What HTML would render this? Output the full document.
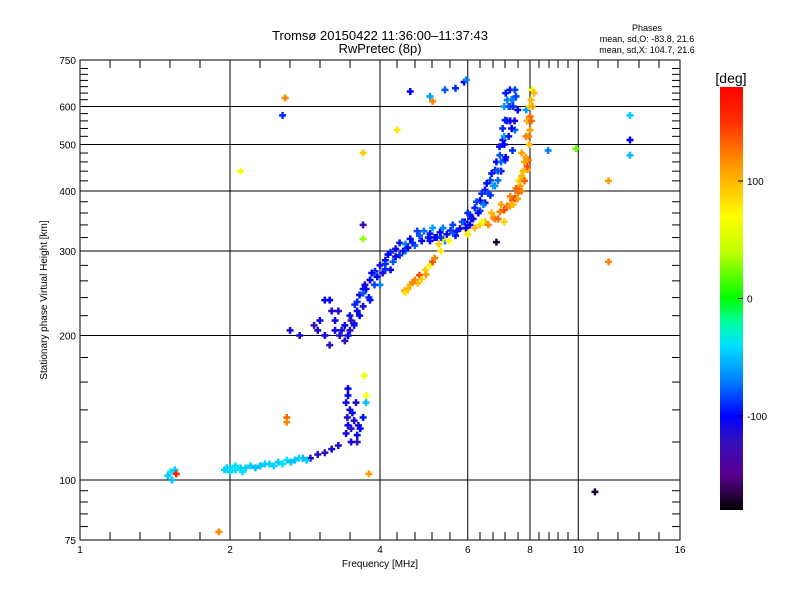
<!DOCTYPE html>
<html><head><meta charset="utf-8"><style>
body{margin:0;background:#fff;}
svg{display:block;font-family:"Liberation Sans",sans-serif;}
</style></head><body>
<svg id="chart" width="800" height="600" viewBox="0 0 800 600" xmlns="http://www.w3.org/2000/svg">
<rect width="800" height="600" fill="#fff"/>
<text x="380" y="40" font-size="13" text-anchor="middle">Tromsø 20150422 11:36:00–11:37:43</text>
<text x="380" y="53" font-size="13" text-anchor="middle">RwPretec (8p)</text>
<text x="647" y="31" font-size="9" text-anchor="middle">Phases</text>
<text x="647" y="42" font-size="9" text-anchor="middle">mean, sd,O: -83.8, 21.6</text>
<text x="647" y="53" font-size="9" text-anchor="middle">mean, sd,X: 104.7, 21.6</text>
<text x="380" y="567" font-size="10" text-anchor="middle">Frequency [MHz]</text>
<text x="47" y="300" font-size="10" text-anchor="middle" transform="rotate(-90 47 300)">Stationary phase Virtual Height [km]</text>
<text x="731" y="83" font-size="14" text-anchor="middle">[deg]</text>
<defs><linearGradient id="cg" x1="0" y1="1" x2="0" y2="0">
<stop offset="0" stop-color="#000000"/><stop offset="0.083" stop-color="#5a0090"/><stop offset="0.167" stop-color="#3010c0"/><stop offset="0.222" stop-color="#0000ff"/><stop offset="0.306" stop-color="#0080ff"/><stop offset="0.389" stop-color="#00e0ff"/><stop offset="0.444" stop-color="#00ffa0"/><stop offset="0.5" stop-color="#00ff00"/><stop offset="0.611" stop-color="#c0ff00"/><stop offset="0.694" stop-color="#ffff00"/><stop offset="0.806" stop-color="#ffa000"/><stop offset="0.917" stop-color="#ff3000"/><stop offset="1" stop-color="#ff0000"/>
</linearGradient></defs>
<rect x="720" y="87" width="23" height="423" fill="url(#cg)"/>
<g id="cbar"></g>
<g id="grid"></g>
<g id="marks"></g>
<rect x="80" y="60" width="600" height="480" fill="none" stroke="#000" stroke-width="1"/>
</svg>
<script>
const freq=[1.5,1.52,1.55,1.53,1.56,1.95,2.0,2.05,2.1,2.15,2.2,2.3,2.4,2.5,2.6,2.7,2.8,2.9,3.0,3.1,3.2,3.3,
3.42,3.45,3.44,3.48,3.42,3.45,3.5,3.55,3.6,3.62,3.65,3.7,3.6,3.45,3.5,3.52,3.58,
2.64,2.76,3.03,3.17,3.32,3.4,3.48,3.56,3.64,3.73,3.82,3.91,4.0,4.1,4.2,4.3,4.38,4.6,4.8,5.04,5.28,5.54,5.79,5.92,6.06,6.2,6.35,6.5,6.66,6.81,6.96,7.06,7.13,7.2,7.29,7.46,7.56,7.46,7.38,
3.48,3.64,3.82,4.0,4.2,4.38,4.7,5.04,5.4,5.67,6.06,6.35,6.66,6.9,7.13,3.17,3.25,3.4,3.1,3.3,3.55,3.7,3.9,4.1,4.5,5.2,5.6,6.1,6.5,6.8,7.0,7.1,7.3,7.4,7.2,7.35,
4.48,4.6,4.7,4.8,4.93,5.04,4.5,4.76,5.25,5.35,
5.96,6.35,6.75,6.96,7.2,7.38,7.56,7.64,7.74,7.9,7.94,7.97,8.0,8.0,8.04,8.08,7.86,7.29,7.46,7.1,6.8,6.5,7.6,7.7,7.8,7.85,7.9,
4.6,5.04,5.4,5.67,5.9,5.96,5.1,
2.58,2.55,2.1,3.7,3.7,3.7,4.33,6.85,8.7,9.9,11.5,11.5,12.7,12.7,12.7,10.8,2.6,2.6,3.72,3.75,3.75,3.8,1.9];
const height=[102,104,105,100,103,105,106,105,106,106,107,107,108,109,110,110,111,111,113,114,116,118,
125,130,135,140,145,150,128,133,124,130,128,135,120,155,120,138,145,
205,200,215,237,200,210,220,232,243,255,261,272,280,287,298,303,312,318,323,326,328,331,334,345,357,369,382,402,421,442,475,511,562,619,650,650,590,536,486,
205,220,237,255,274,294,308,315,315,323,340,364,392,421,464,191,205,195,237,225,212,250,268,282,300,320,328,350,378,410,440,520,600,620,560,540,
248,255,261,267,274,280,246,257,310,318,
331,340,352,362,372,382,396,410,425,443,464,500,536,572,619,650,590,372,386,345,350,345,400,430,460,520,560,
645,630,650,655,675,682,615,
625,575,440,480,340,318,536,313,486,490,285,420,575,511,475,94.5,135,132,165,150,145,103,78];
const phase=[-45,-40,-45,-50,160,-45,-45,-40,-45,-45,-45,-50,-45,-45,-40,-50,-55,-110,-115,-120,-110,-115,
-110,-105,-115,-110,-105,-100,-115,-110,-105,-110,-100,-95,-120,-100,-110,-105,-115,
-110,-110,-105,-100,-115,-100,-95,-90,-105,-110,-100,-95,-105,-100,-90,-105,-95,-100,-80,-95,-100,-90,-105,-100,-95,-90,-100,-95,-85,-90,-80,-100,-90,-70,-95,-85,-100,-75,-90,
-115,-100,-95,-70,-105,-90,-80,-100,-70,-95,-100,-85,-90,-75,-100,-120,-105,-120,-100,-110,-125,-95,-70,-90,-65,-100,-80,-95,-105,-70,-95,-60,-85,-75,-95,-100,
110,100,120,140,90,60,80,100,90,60,
70,90,110,120,130,130,120,110,100,110,120,100,110,130,100,60,-60,110,150,90,120,100,130,100,110,120,140,
-100,-60,-80,-90,-100,-70,120,
120,-90,70,90,-130,30,80,-170,-70,20,120,110,-45,-100,-50,-170,130,120,60,70,-50,110,120];
const freqB=[3.35,3.45,3.5,3.55,3.6,3.6,3.7,3.7,3.75,3.8,3.85,3.9,3.95,4.05,4.1,4.15,4.25,4.3,4.45,4.5,4.55,4.65,4.75,4.85,4.9,5.0,5.1,5.15,5.3,5.35,5.45,5.6,5.7,5.85,5.95,6.0,6.15,6.25,6.3,6.4,6.45,6.55,6.6,6.7,6.75,6.85,6.9,6.95,7.0,7.05,7.1,7.1,7.15,7.25,7.3,7.35,7.4,7.45,7.5,7.25,7.15,3.0,2.95,3.1,3.2,3.25,
6.0,6.2,6.4,6.6,6.7,6.9,7.0,7.1,7.3,7.4,7.5,7.55,7.6,7.7,7.75,7.8,7.85,7.9,7.95,7.92,7.98,8.05,8.1,8.15,7.7,4.55,4.65,4.85,4.95,5.1,5.15,5.3,5.5,
2.0,2.05,2.25,2.35,2.45,2.55,2.65,2.75,2.85,1.97,2.12];
const heightB=[205,200,215,210,225,235,230,245,250,240,270,255,265,270,275,295,285,292,300,310,305,312,330,315,330,320,335,320,320,335,325,340,330,345,335,360,350,380,360,395,375,415,395,435,410,460,440,495,460,540,500,600,640,600,560,620,600,560,630,520,470,205,210,200,225,215,
325,335,345,340,360,350,375,365,390,375,405,385,420,400,440,420,470,450,520,560,600,560,600,640,480,250,258,262,268,285,290,300,315,
104,107,106,108,107,108,109,111,110,106,104];
const phaseB=[-110,-100,-120,-95,-105,-90,-110,-80,-100,-95,-105,-85,-100,-110,-90,-100,-80,-105,-95,-70,-100,-90,-85,-100,-75,-95,-60,-100,-90,-70,-100,-85,-95,-80,-100,-90,-105,-85,-100,-90,-70,-100,-85,-95,-60,-100,-80,-95,-75,-90,-100,-60,-95,-80,-100,-70,-90,-110,-85,-95,-100,-110,-120,-105,-115,-110,
80,100,60,120,100,130,110,140,120,100,130,110,90,120,100,130,110,140,120,100,90,130,110,100,110,100,120,90,110,140,120,80,70,
-45,-40,-50,-45,-45,-40,-50,-45,-45,-45,-40];
const xTickVals=[1,2,4,6,8,10,16];
const yTickVals=[75,100,200,300,400,500,600,750];
const cbarTickVals=[100,0,-100];

const NS='http://www.w3.org/2000/svg';
const X0=80,X1=680,Y0=540,Y1=60;
function xs(f){return X0+150*Math.log2(f);}
function ys(h){return Y0-480*Math.log10(h/75);}
function cy(p){return 510-(p+180)/360*423;}
function el(tag,attrs,parent){const e=document.createElementNS(NS,tag);for(const k in attrs)e.setAttribute(k,attrs[k]);parent.appendChild(e);return e;}
const stops=[[-180,[0,0,0]],[-150,[90,0,144]],[-120,[48,16,192]],[-100,[0,0,255]],[-70,[0,128,255]],[-40,[0,224,255]],[-20,[0,255,160]],[0,[0,255,0]],[40,[192,255,0]],[70,[255,255,0]],[110,[255,160,0]],[150,[255,48,0]],[180,[255,0,0]]];
function pcol(p){for(let i=1;i<stops.length;i++){if(p<=stops[i][0]){const a=stops[i-1],b=stops[i];const t=(p-a[0])/(b[0]-a[0]);const c=a[1].map((v,j)=>Math.round(v+(b[1][j]-v)*t));return 'rgb('+c.join(',')+')';}}return 'rgb(255,0,0)';}

const grid=document.getElementById('grid');
const minorX=[110,140,170,200,260,290,320,350,397,415,432,450,480,493,505,518,539,549,558,568,598,618,639,659];
minorX.forEach(x=>{el('line',{x1:x,y1:Y0,x2:x,y2:Y0-8,stroke:'#000'},grid);el('line',{x1:x,y1:Y1,x2:x,y2:Y1+8,stroke:'#000'},grid);});
const minorY=[80,85,90,95,120,140,160,180,220,240,260,280,320,340,360,380,420,440,460,480,520,540,560,580,620,640,660,680,700,720];
minorY.forEach(h=>{const y=ys(h);el('line',{x1:X0,y1:y,x2:X0+8,y2:y,stroke:'#000'},grid);el('line',{x1:X1,y1:y,x2:X1-8,y2:y,stroke:'#000'},grid);});
xTickVals.forEach(v=>{const x=xs(v);
 if(v>1&&v<16){const g=el('line',{x1:x,y1:Y0,x2:x,y2:Y1,stroke:'#000'},grid);}
 const t=el('text',{x:x,y:553,'font-size':10,'text-anchor':'middle'},grid);t.textContent=v;
 
 });
yTickVals.forEach(v=>{const y=ys(v);
 if(v>75&&v<750){const g=el('line',{x1:X0,y1:y,x2:X1,y2:y,stroke:'#000'},grid);}
 const t=el('text',{x:76,y:y+4,'font-size':10,'text-anchor':'end'},grid);t.textContent=v;
 
 });
const cb=document.getElementById('cbar');
cbarTickVals.forEach(v=>{const y=cy(v);el('line',{x1:743,y1:y,x2:738,y2:y,stroke:'#000'},cb);
 const t=el('text',{x:747,y:y+4,'font-size':10},cb);t.textContent=v;
 
 });
const marks=document.getElementById('marks');
const allF=freq.concat(freqB),allH=height.concat(heightB),allP=phase.concat(phaseB);
for(let i=0;i<allF.length;i++){const x=xs(allF[i]),y=ys(allH[i]),c=pcol(allP[i]);
 const p=el('path',{d:`M${x-3.5} ${y}H${x+3.5}M${x} ${y-3.5}V${y+3.5}`,stroke:c,'stroke-width':2.5,fill:'none'},marks);
 
 }
</script>
</body></html>
